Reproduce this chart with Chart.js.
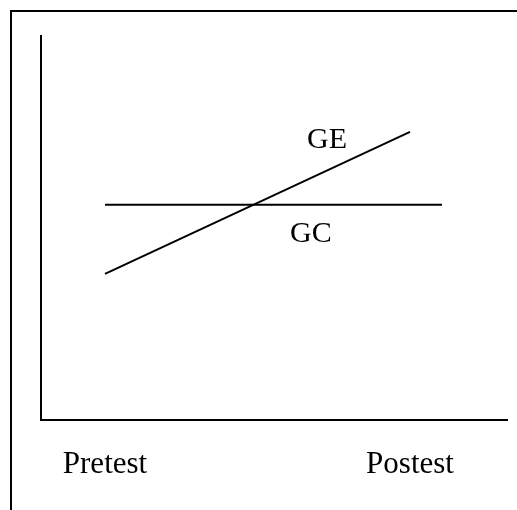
<!DOCTYPE html>
<html>
<head>
<meta charset="utf-8">
<script src="https://cdn.jsdelivr.net/npm/chart.js@4/dist/chart.umd.min.js"></script>
<style>
  html, body { margin: 0; padding: 0; overflow: hidden; background: #fff; }
  #wrap { position: absolute; left: 0; top: 0; width: 517px; height: 510px; }
  #frame { position: absolute; left: 10px; top: 10px; width: 560px; height: 560px; border: 2px solid #000; pointer-events: none; }
  canvas { position: absolute; left: 0; top: 0; }
</style>
</head>
<body>
<div id="wrap">
  <canvas id="c" width="517" height="510"></canvas>
  <div id="frame"></div>
</div>
<script>
// ---- data ----
const categories = ["Pretest", "Postest"];
const categoryX = [0, 1];
const geValues = [38, 75];        // GE: pretest, postest
const gcValues = [56, 56];        // GC: flat
const gcX = [0, 1.105];           // GC line extends a bit past Postest
const seriesLabels = ["GE", "GC"];
const labelX = [0.728, 0.675];    // annotation positions (data units)
const labelY = [73, 48.3];

const FONT = "'Liberation Serif', 'Times New Roman', serif";

const textLabels = {
  id: 'textLabels',
  afterDatasetsDraw(chart) {
    const ctx = chart.ctx;
    const xs = chart.scales.x, ys = chart.scales.y;
    ctx.save();
    ctx.fillStyle = '#000';
    ctx.font = "30px " + FONT;
    ctx.textAlign = 'center';
    ctx.textBaseline = 'middle';
    seriesLabels.forEach((t, i) => {
      ctx.fillText(t, xs.getPixelForValue(labelX[i]), ys.getPixelForValue(labelY[i]));
    });
    ctx.restore();
  }
};

new Chart(document.getElementById('c'), {
  type: 'scatter',
  data: {
    datasets: [
      {
        label: seriesLabels[0],
        data: categoryX.map((x, i) => ({ x: x, y: geValues[i] })),
        showLine: true, borderColor: '#000', borderWidth: 2, pointRadius: 0, fill: false
      },
      {
        label: seriesLabels[1],
        data: gcX.map((x, i) => ({ x: x, y: gcValues[i] })),
        showLine: true, borderColor: '#000', borderWidth: 2, pointRadius: 0, fill: false
      }
    ]
  },
  options: {
    responsive: false,
    animation: false,
    devicePixelRatio: 1,
    layout: { padding: { left: 41, top: 36, right: 10, bottom: 1 } },
    plugins: { legend: { display: false }, tooltip: { enabled: false } },
    scales: {
      x: {
        type: 'linear',
        min: -0.2098,
        max: 1.318,
        grid: { display: false, drawTicks: false },
        border: { display: true, color: '#000', width: 2 },
        afterBuildTicks: (axis) => { axis.ticks = categoryX.map(v => ({ value: v })); },
        ticks: {
          autoSkip: false,
          maxRotation: 0,
          padding: 26,
          color: '#000',
          font: { family: FONT, size: 31 },
          callback: (v) => { const i = categoryX.indexOf(v); return i >= 0 ? categories[i] : ''; }
        }
      },
      y: {
        type: 'linear',
        min: 0,
        max: 100,
        grid: { display: false, drawTicks: false },
        border: { display: true, color: '#000', width: 2 },
        ticks: { display: false }
      }
    }
  },
  plugins: [textLabels]
});
</script>
</body>
</html>
